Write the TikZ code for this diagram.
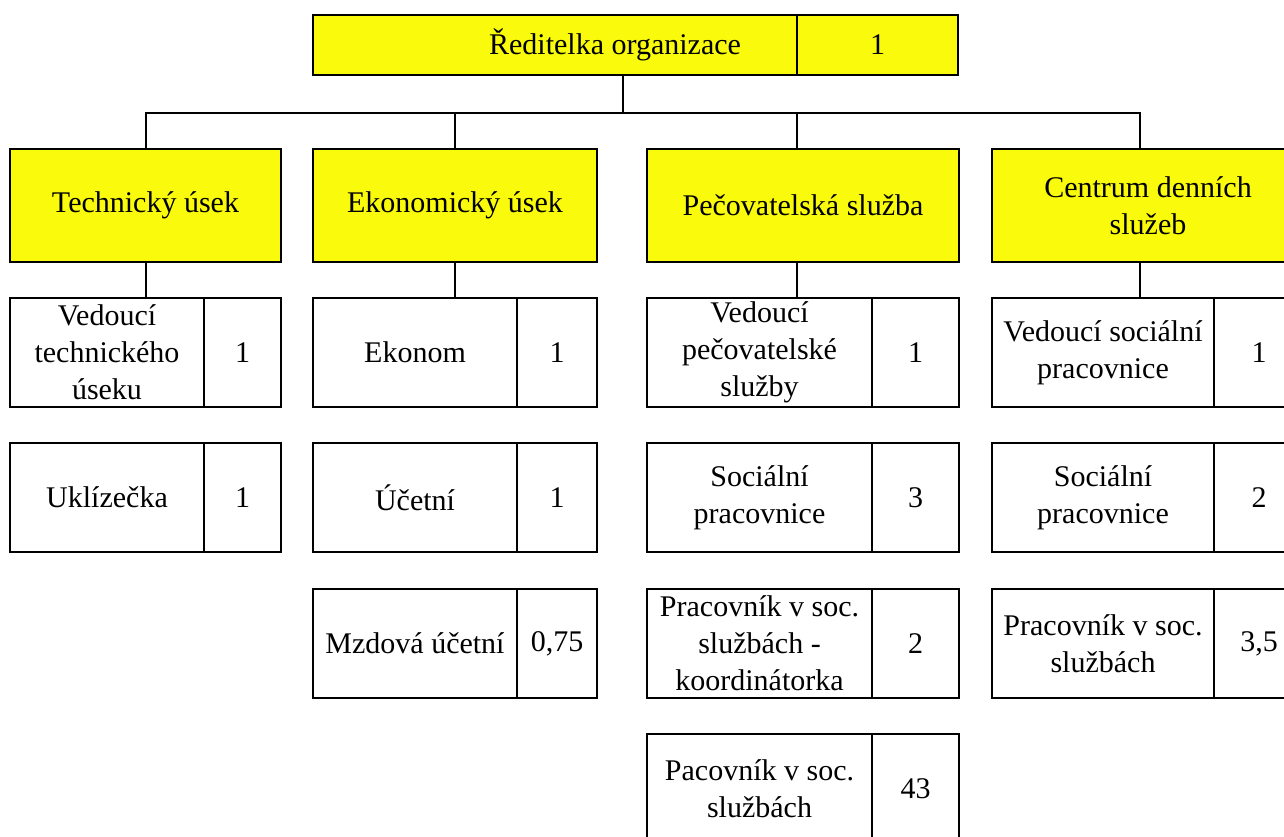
\documentclass[tikz,border=0pt]{standalone}
\usepackage{fontspec}
\setmainfont{Liberation Serif}
\definecolor{boxyellow}{RGB}{250,250,12}
\begin{document}
\begin{tikzpicture}[x=1pt,y=-1pt,
  every node/.style={font=\fontsize{30}{37}\selectfont},
  cell/.style={draw=black, line width=2.6pt, inner sep=0pt, align=center, anchor=center},
  ycell/.style={cell, fill=boxyellow},
  yrow/.style={ycell, minimum height=113pt},
  wrow/.style={cell, fill=white, minimum height=109pt},
  link/.style={draw=black, line width=2.6pt, line join=miter}]
\useasboundingbox (0,0) rectangle (1284,836);
\clip (0,0) rectangle (1284,836);

% top box
\node[ycell, minimum width=484pt, minimum height=60pt] (top) at (555,45) {};
\node[inner sep=0pt] (toptext) at (615,45) {Ředitelka organizace};
\node[ycell, minimum width=161pt, minimum height=60pt] (topn) at (877.5,45) {1};

% department boxes
\node[yrow, minimum width=271pt] (tech) at (145.5,205.5) {Technický úsek};
\node[yrow, minimum width=284pt] (eko) at (455,205.5) {Ekonomický úsek};
\node[yrow, minimum width=312pt] (pec) at (803,205.5) {Pečovatelská služba};
\node[yrow, minimum width=312pt] (cen) at (1148,205.5) {Centrum denních\\služeb};

% technický úsek
\node[wrow, minimum width=194pt] (t1) at (107,352.5) {Vedoucí\\technického\\úseku};
\node[wrow, minimum width=77pt] (t1n) at (242.5,352.5) {1};
\node[wrow, minimum width=194pt] (t2) at (107,497.5) {Uklízečka};
\node[wrow, minimum width=77pt] (t2n) at (242.5,497.5) {1};

% ekonomický úsek
\node[wrow, minimum width=204pt] (e1) at (415,352.5) {Ekonom};
\node[wrow, minimum width=80pt] (e1n) at (557,352.5) {1};
\node[wrow, minimum width=204pt] (e2) at (415,497.5) {Účetní};
\node[wrow, minimum width=80pt] (e2n) at (557,497.5) {1};
\node[wrow, minimum width=204pt] (e3) at (415,643.5) {Mzdová účetní};
\node[wrow, minimum width=80pt] (e3n) at (557,643.5) {0,75};

% pečovatelská služba
\node[wrow, minimum width=225pt] (p1) at (759.5,352.5) {Vedoucí\\pečovatelské\\služby};
\node[wrow, minimum width=87pt] (p1n) at (915.5,352.5) {1};
\node[wrow, minimum width=225pt] (p2) at (759.5,497.5) {Sociální\\pracovnice};
\node[wrow, minimum width=87pt] (p2n) at (915.5,497.5) {3};
\node[wrow, minimum width=225pt] (p3) at (759.5,643.5) {Pracovník v soc.\\službách -\\koordinátorka};
\node[wrow, minimum width=87pt] (p3n) at (915.5,643.5) {2};
\node[wrow, minimum width=225pt] (p4) at (759.5,788.5) {Pacovník v soc.\\službách};
\node[wrow, minimum width=87pt] (p4n) at (915.5,788.5) {43};

% centrum denních služeb
\node[wrow, minimum width=222pt] (c1) at (1103,352.5) {Vedoucí sociální\\pracovnice};
\node[wrow, minimum width=90pt] (c1n) at (1259,352.5) {1};
\node[wrow, minimum width=222pt] (c2) at (1103,497.5) {Sociální\\pracovnice};
\node[wrow, minimum width=90pt] (c2n) at (1259,497.5) {2};
\node[wrow, minimum width=222pt] (c3) at (1103,643.5) {Pracovník v soc.\\službách};
\node[wrow, minimum width=90pt] (c3n) at (1259,643.5) {3,5};

% connectors
\coordinate (jt) at (623,113);
\coordinate (ja) at (146,113);
\coordinate (jb) at (455,113);
\coordinate (jc) at (797,113);
\coordinate (jd) at (1140,113);
\draw[link] (top.south -| jt) -- (jt);
\draw[link] (ja |- tech.north) -- (ja) -- (jd) -- (jd |- cen.north);
\draw[link] (jb) -- (jb |- eko.north);
\draw[link] (jc) -- (jc |- pec.north);
\draw[link] (ja |- tech.south) -- (ja |- t1.north);
\draw[link] (jb |- eko.south) -- (jb |- e1.north);
\draw[link] (jc |- pec.south) -- (jc |- p1.north);
\draw[link] (jd |- cen.south) -- (jd |- c1.north);
\end{tikzpicture}
\end{document}
